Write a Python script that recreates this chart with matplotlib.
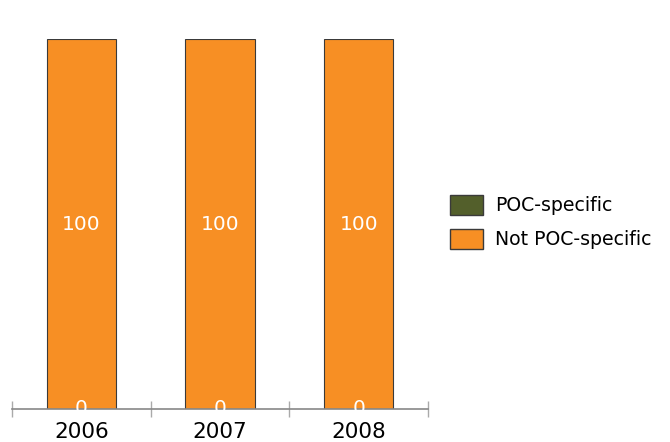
import matplotlib
matplotlib.use("Agg")
import matplotlib.pyplot as plt
from matplotlib.patches import Patch

years = ["2006", "2007", "2008"]
poc_specific = [0, 0, 0]
not_poc_specific = [100, 100, 100]

c_poc = "#535F2B"
c_not = "#F78F24"
edge = "#3a3a3a"

fig = plt.figure(figsize=(6.7, 4.42), dpi=100)
ax = fig.add_axes([12/670, 33/442, 416/670, 370/442])

x = list(range(len(years)))
ax.bar(x, poc_specific, width=0.5, color=c_poc, edgecolor=edge, linewidth=0.8)
ax.bar(x, not_poc_specific, width=0.5, bottom=poc_specific, color=c_not, edgecolor=edge, linewidth=0.8)

for i in x:
    ax.text(i, poc_specific[i] / 2, str(poc_specific[i]), ha="center", va="center",
            color="white", fontsize=14.5, clip_on=False)
    ax.text(i, poc_specific[i] + not_poc_specific[i] / 2, str(not_poc_specific[i]),
            ha="center", va="center", color="white", fontsize=14.5)

ax.set_xlim(-0.5, 2.5)
ax.set_ylim(0, 100)
for s in ["top", "right", "left"]:
    ax.spines[s].set_visible(False)
ax.spines["bottom"].set_color("#888888")
ax.spines["bottom"].set_linewidth(1.2)
ax.set_yticks([])
ax.set_xticks([-0.5, 0.5, 1.5, 2.5])
ax.set_xticklabels([])
ax.set_xticks(x, minor=True)
ax.set_xticklabels(years, minor=True, fontsize=15.5)
ax.tick_params(axis="x", which="major", direction="inout", length=12, color="#aaaaaa", width=1)
ax.tick_params(axis="x", which="minor", length=0, pad=9)

handles = [Patch(facecolor=c_poc, edgecolor=edge, label="POC-specific"),
           Patch(facecolor=c_not, edgecolor=edge, label="Not POC-specific")]
fig.legend(handles=handles, loc="center left", bbox_to_anchor=(433/670, 1 - 222/442),
           frameon=False, fontsize=13.6, handlelength=1.75, handleheight=1.3,
           handletextpad=0.63, labelspacing=0.72)

fig.savefig("out.png", dpi=100)
